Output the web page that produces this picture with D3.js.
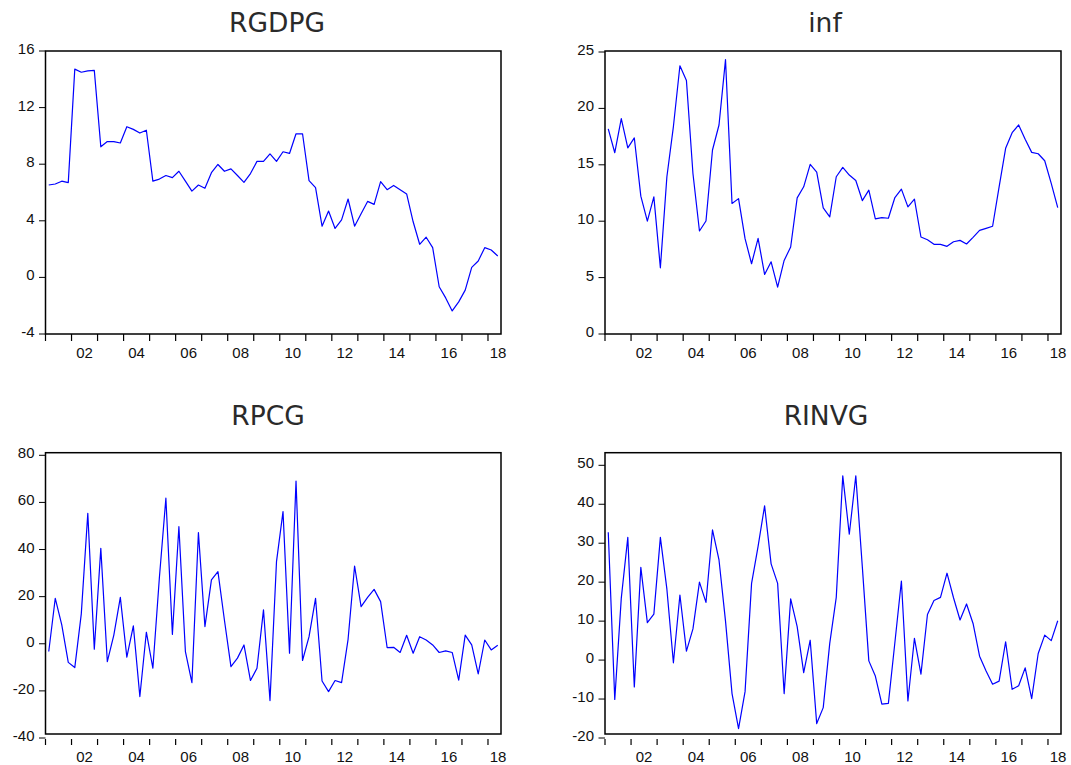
<!DOCTYPE html>
<html>
<head>
<meta charset="utf-8">
<script src="https://cdn.jsdelivr.net/npm/d3@7/dist/d3.min.js"></script>
<style>
  html, body { margin: 0; padding: 0; background: #fff; }
  svg { display: block; }
</style>
</head>
<body>
<svg id="chart" width="1071" height="765"></svg>
<script>
// ---------- data (quarterly, 2001Q1 .. 2018Q2) ----------
const startYear = 2001;
const quarters = [];
for (let y = 2001; y <= 2018; y++) for (let q = 1; q <= 4; q++) {
  if (y === 2018 && q > 2) break;
  quarters.push(y + "Q" + q);
}

const RGDPG = [6.53, 6.6, 6.8, 6.7, 14.72, 14.5, 14.6, 14.63, 9.23, 9.6,
  9.6, 9.5, 10.65, 10.46, 10.2, 10.4, 6.8, 6.95, 7.2, 7.05,
  7.5, 6.8, 6.1, 6.53, 6.3, 7.4, 7.98, 7.5, 7.67, 7.2,
  6.72, 7.34, 8.2, 8.2, 8.73, 8.2, 8.88, 8.76, 10.15, 10.15,
  6.84, 6.34, 3.62, 4.69, 3.46, 4.07, 5.54, 3.62, 4.5, 5.37,
  5.16, 6.77, 6.2, 6.5, 6.2, 5.9, 3.93, 2.34, 2.84, 2.1,
  -0.66, -1.45, -2.37, -1.73, -0.9, 0.71, 1.16, 2.1, 1.94, 1.51];

const INF = [18.18, 16.07, 19.1, 16.5, 17.38, 12.22, 10.0, 12.16, 5.87, 13.94,
  18.39, 23.78, 22.48, 14.23, 9.13, 10.02, 16.31, 18.53, 24.32, 11.57,
  12.0, 8.45, 6.23, 8.48, 5.28, 6.4, 4.15, 6.52, 7.71, 12.07,
  13.05, 15.04, 14.35, 11.18, 10.38, 13.94, 14.77, 14.09, 13.61, 11.83,
  12.75, 10.2, 10.32, 10.26, 12.1, 12.84, 11.27, 11.95, 8.6, 8.36,
  7.95, 7.95, 7.77, 8.18, 8.3, 7.98, 8.57, 9.19, 9.37, 9.55,
  13.05, 16.46, 17.85, 18.53, 17.26, 16.1, 15.98, 15.36, 13.35, 11.21];

const RPCG = [-3.3, 19.3, 8.0, -7.9, -10.1, 12.7, 55.4, -2.3, 40.5, -7.6,
  3.7, 19.7, -5.7, 7.6, -22.4, 4.9, -10.4, 28.0, 61.8, 4.0,
  49.7, -3.3, -16.5, 47.2, 7.3, 27.1, 30.6, 10.0, -9.7, -6.1,
  -0.5, -15.6, -10.4, 14.4, -24.1, 34.9, 56.1, -4.0, 69.1, -7.1,
  3.0, 19.3, -15.8, -20.3, -15.6, -16.5, 1.9, 33.0, 15.8, 19.7,
  23.1, 17.9, -1.6, -1.5, -3.7, 3.6, -4.0, 3.0, 1.6, -0.5,
  -3.7, -3.0, -3.7, -15.4, 3.7, -0.5, -12.8, 1.6, -2.6, -0.6];

const RINVG = [32.8, -10.1, 15.9, 31.5, -6.9, 23.8, 9.6, 11.8, 31.5, 18.2,
  -0.7, 16.7, 2.3, 8.0, 20.0, 14.8, 33.4, 25.7, 10.0, -8.6,
  -17.6, -8.1, 19.7, 29.2, 39.6, 24.7, 19.7, -8.6, 15.7, 8.6,
  -3.2, 5.1, -16.3, -12.2, 4.3, 16.1, 47.3, 32.3, 47.3, 24.0,
  -0.2, -4.1, -11.3, -11.1, 4.5, 20.3, -10.5, 5.6, -3.6, 11.7,
  15.3, 16.1, 22.3, 16.0, 10.3, 14.4, 9.4, 1.0, -2.8, -6.2,
  -5.4, 4.7, -7.5, -6.6, -2.0, -9.9, 1.7, 6.4, 5.0, 10.1];

const titles = ["RGDPG", "inf", "RPCG", "RINVG"];
const yTicksRGDPG = [-4, 0, 4, 8, 12, 16];
const yTicksINF = [0, 5, 10, 15, 20, 25];
const yTicksRPCG = [-40, -20, 0, 20, 40, 60, 80];
const yTicksRINVG = [-20, -10, 0, 10, 20, 30, 40, 50];
const yearTicks = d3.range(2001, 2019);
const yearLabels = [2002, 2004, 2006, 2008, 2010, 2012, 2014, 2016, 2018];

// ---------- layout ----------
const panels = [
  { title: titles[0], data: RGDPG, ticks: yTicksRGDPG,
    frame: { x0: 45.5, x1: 501, y0: 51, y1: 334 }, yRange: [334, 51],
    xTick: [334, 341], xLabY: 352, titleX: 277, titleY: 22 },
  { title: titles[1], data: INF, ticks: yTicksINF,
    frame: { x0: 605, x1: 1061, y0: 51, y1: 334 }, yRange: [334, 52],
    xTick: [334, 341], xLabY: 352, titleX: 825, titleY: 22 },
  { title: titles[2], data: RPCG, ticks: yTicksRPCG,
    frame: { x0: 45.5, x1: 501, y0: 452.7, y1: 734 }, yRange: [738, 455.3],
    xTick: [739, 745], xLabY: 756, titleX: 268, titleY: 415 },
  { title: titles[3], data: RINVG, ticks: yTicksRINVG,
    frame: { x0: 605, x1: 1061, y0: 452.7, y1: 734 }, yRange: [738, 465.3],
    xTick: [739, 745], xLabY: 756, titleX: 826, titleY: 415 }
];

const svg = d3.select("#chart");

panels.forEach(p => {
  const g = svg.append("g");
  const f = p.frame;
  const x = d3.scaleLinear().domain([startYear, 2018.5]).range([f.x0, f.x1]);
  const y = d3.scaleLinear().domain([p.ticks[0], p.ticks[p.ticks.length - 1]]).range(p.yRange);

  // title
  g.append("text")
    .attr("x", p.titleX).attr("y", p.titleY)
    .attr("text-anchor", "middle").attr("dominant-baseline", "central")
    .attr("font-family", "'DejaVu Sans', sans-serif")
    .attr("font-size", 26.5).attr("fill", "#2a2a2a")
    .text(p.title);

  // y ticks + labels
  p.ticks.forEach(t => {
    g.append("line")
      .attr("x1", f.x0 - 6.5).attr("x2", f.x0)
      .attr("y1", y(t)).attr("y2", y(t))
      .attr("stroke", "#000").attr("stroke-width", 1);
    g.append("text")
      .attr("x", f.x0 - 11).attr("y", y(t) - 2.5)
      .attr("text-anchor", "end").attr("dominant-baseline", "central")
      .attr("font-family", "'Liberation Sans', Arial, sans-serif")
      .attr("font-size", 15).attr("fill", "#111")
      .text(t);
  });

  // x ticks
  yearTicks.forEach(yr => {
    g.append("line")
      .attr("x1", x(yr)).attr("x2", x(yr))
      .attr("y1", p.xTick[0]).attr("y2", p.xTick[1])
      .attr("stroke", "#000").attr("stroke-width", 1.2);
  });
  yearLabels.forEach(yr => {
    const cx = Math.min(x(yr + 0.5), f.x1 - 3);
    g.append("text")
      .attr("x", cx).attr("y", p.xLabY)
      .attr("text-anchor", "middle").attr("dominant-baseline", "central")
      .attr("font-family", "'Liberation Sans', Arial, sans-serif")
      .attr("font-size", 15).attr("fill", "#111")
      .text(String(yr % 100).padStart(2, "0"));
  });

  // series line
  const line = d3.line()
    .x((d, i) => x(startYear + i / 4 + 0.125))
    .y(d => y(d));
  g.append("path")
    .datum(p.data)
    .attr("d", line)
    .attr("fill", "none")
    .attr("stroke", "#0000ff")
    .attr("stroke-width", 1.2)
    .attr("stroke-linejoin", "round");

  // frame
  g.append("rect")
    .attr("x", f.x0).attr("y", f.y0)
    .attr("width", f.x1 - f.x0).attr("height", f.y1 - f.y0)
    .attr("fill", "none").attr("stroke", "#000").attr("stroke-width", 1.5);
});
</script>
</body>
</html>
